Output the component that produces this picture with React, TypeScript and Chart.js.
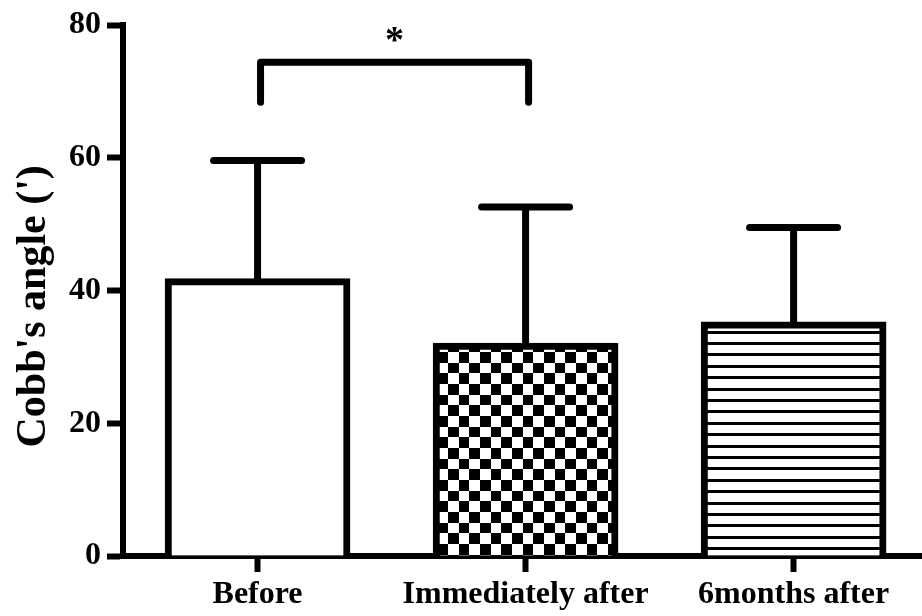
import { useEffect, useRef } from 'react';
import { Chart, registerables } from 'chart.js';

Chart.register(...registerables);

const categories = ['Before', 'Immediately after', '6months after'];
const meanValues = [41.8, 32.1, 35.3];
const sdValues = [17.8, 20.5, 14.2];
const yTickStep = 20;
const yMin = 0;
const yMax = 80;
const sigFrom = 0;
const sigTo = 1;
const sigBarLevel = 74.4;
const sigLegLevel = 68.4;
const sigLabel = '*';
const yTitle = "Cobb's angle (')";

const FONT = '"Liberation Serif", "Times New Roman", serif';

function makeChecker(ctx: CanvasRenderingContext2D) {
  const c = document.createElement('canvas');
  c.width = 64;
  c.height = 64;
  const g = c.getContext('2d')!;
  g.fillStyle = '#fff';
  g.fillRect(0, 0, 64, 64);
  const edges = [0, 11, 21, 32, 43, 53, 64];
  g.fillStyle = '#000';
  for (let i = 0; i < 6; i++) {
    for (let j = 0; j < 6; j++) {
      if ((i + j) % 2 === 0) {
        g.fillRect(edges[i], edges[j], edges[i + 1] - edges[i], edges[j + 1] - edges[j]);
      }
    }
  }
  return ctx.createPattern(c, 'repeat')!;
}

function makeStripes(ctx: CanvasRenderingContext2D) {
  const c = document.createElement('canvas');
  c.width = 8;
  c.height = 57;
  const g = c.getContext('2d')!;
  g.fillStyle = '#fff';
  g.fillRect(0, 0, 8, 57);
  g.fillStyle = '#000';
  [0, 11, 23, 34, 46].forEach((yy) => g.fillRect(0, yy, 8, 3));
  return ctx.createPattern(c, 'repeat')!;
}

const overlayPlugin = {
  id: 'overlay',
  afterDatasetsDraw(chart: any) {
    const { ctx } = chart;
    const x = chart.scales.x;
    const y = chart.scales.y;
    ctx.save();
    ctx.strokeStyle = '#000';
    ctx.fillStyle = '#000';
    ctx.lineWidth = 7;
    const capHalf = 44;
    meanValues.forEach((m, i) => {
      const px = x.getPixelForValue(i);
      const top = y.getPixelForValue(m + sdValues[i]);
      const base = y.getPixelForValue(m);
      ctx.lineCap = 'butt';
      ctx.beginPath();
      ctx.moveTo(px, base + 2);
      ctx.lineTo(px, top);
      ctx.stroke();
      ctx.lineCap = 'round';
      ctx.beginPath();
      ctx.moveTo(px - capHalf, top);
      ctx.lineTo(px + capHalf, top);
      ctx.stroke();
    });
    const x1 = x.getPixelForValue(sigFrom) + 3;
    const x2 = x.getPixelForValue(sigTo) + 3;
    const yb = y.getPixelForValue(sigBarLevel);
    const yl = y.getPixelForValue(sigLegLevel);
    ctx.lineCap = 'round';
    ctx.lineJoin = 'round';
    ctx.beginPath();
    ctx.moveTo(x1, yl);
    ctx.lineTo(x1, yb);
    ctx.lineTo(x2, yb);
    ctx.lineTo(x2, yl);
    ctx.stroke();
    ctx.font = `bold 38px ${FONT}`;
    ctx.textAlign = 'center';
    ctx.textBaseline = 'alphabetic';
    ctx.fillText(sigLabel, (x1 + x2) / 2, yb - 10);
    ctx.restore();
  },
};

export default function App() {
  const canvasRef = useRef<HTMLCanvasElement | null>(null);

  useEffect(() => {
    document.body.style.margin = '0';
    const canvas = canvasRef.current!;
    const ctx = canvas.getContext('2d')!;
    const checker = makeChecker(ctx);
    const stripes = makeStripes(ctx);

    const chart = new Chart(ctx, {
      type: 'bar',
      data: {
        datasets: [
          {
            data: meanValues.map((v, i) => ({ x: i, y: v })),
            backgroundColor: ['#ffffff', checker, stripes],
            borderColor: '#000',
            borderWidth: 7,
            borderSkipped: 'bottom',
            barThickness: 185,
          },
        ],
      },
      options: {
        animation: false,
        responsive: true,
        maintainAspectRatio: false,
        layout: { padding: { top: 24, right: 0, bottom: 0, left: 0 } },
        plugins: {
          legend: { display: false },
          tooltip: { enabled: false },
        },
        scales: {
          x: {
            type: 'linear',
            min: -0.502,
            max: 2.479,
            offset: false,
            z: 1,
            afterBuildTicks: (s: any) => {
              s.ticks = categories.map((_, i) => ({ value: i }));
            },
            afterFit: (s: any) => {
              s.height = 60;
            },
            ticks: {
              callback: (v: any) => categories[v as number] ?? '',
              font: { family: FONT, size: 32, weight: 'bold' },
              color: '#000',
              padding: 4,
              autoSkip: false,
              maxRotation: 0,
            },
            grid: {
              display: true,
              offset: false,
              drawOnChartArea: false,
              drawTicks: true,
              tickLength: 16,
              tickWidth: 6,
              tickColor: '#000',
            },
            border: { display: true, color: '#000', width: 6 },
          },
          y: {
            min: yMin,
            max: yMax,
            afterFit: (s: any) => {
              s.width = 123;
            },
            ticks: {
              stepSize: yTickStep,
              font: { family: FONT, size: 32, weight: 'bold' },
              color: '#000',
              padding: 6,
            },
            grid: {
              display: true,
              drawOnChartArea: false,
              drawTicks: true,
              tickLength: 16,
              tickWidth: 6,
              tickColor: '#000',
            },
            border: { display: true, color: '#000', width: 6 },
            title: {
              display: true,
              text: yTitle + '   ',
              font: { family: FONT, size: 42, weight: 'bold' },
              color: '#000',
              padding: { top: 9, bottom: 0 },
            },
          },
        },
      } as any,
      plugins: [overlayPlugin],
    });

    return () => {
      chart.destroy();
    };
  }, []);

  return (
    <div style={{ position: 'relative', width: 922, height: 616 }}>
      <canvas ref={canvasRef} />
    </div>
  );
}
